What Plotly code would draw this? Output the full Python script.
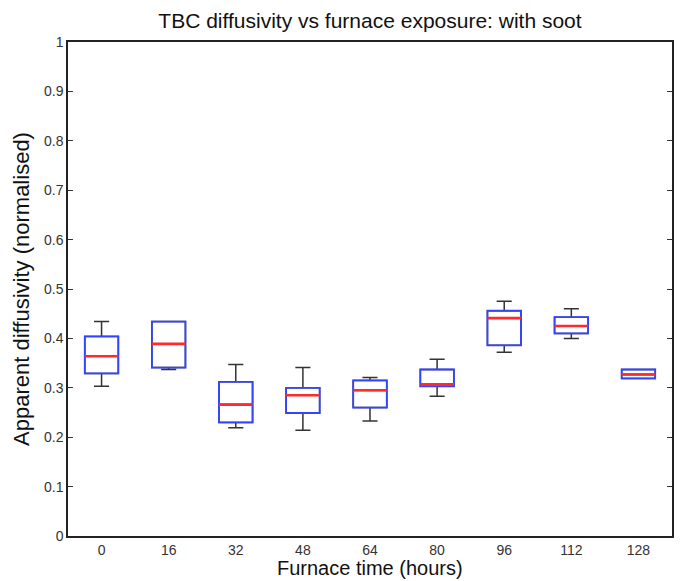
import plotly.graph_objects as go

categories = ["0", "16", "32", "48", "64", "80", "96", "112", "128"]
lower_whisker = [0.303, 0.337, 0.219, 0.214, 0.233, 0.283, 0.372, 0.400, 0.319]
q1_values     = [0.329, 0.341, 0.230, 0.249, 0.260, 0.303, 0.386, 0.410, 0.319]
median_values = [0.364, 0.389, 0.266, 0.285, 0.295, 0.307, 0.441, 0.425, 0.327]
q3_values     = [0.404, 0.434, 0.312, 0.300, 0.315, 0.337, 0.456, 0.443, 0.337]
upper_whisker = [0.434, 0.434, 0.347, 0.341, 0.321, 0.358, 0.475, 0.460, 0.337]
y_ticks = [0, 0.1, 0.2, 0.3, 0.4, 0.5, 0.6, 0.7, 0.8, 0.9, 1]
y_tick_labels = ["0", "0.1", "0.2", "0.3", "0.4", "0.5", "0.6", "0.7", "0.8", "0.9", "1"]

fig = go.Figure()

# whiskers (black)
fig.add_trace(go.Box(
    x=categories, q1=q1_values, median=median_values, q3=q3_values,
    lowerfence=lower_whisker, upperfence=upper_whisker,
    width=0.5, whiskerwidth=0.45,
    line=dict(color="#333333", width=1.5), fillcolor="rgba(0,0,0,0)",
    boxpoints=False, hoverinfo="skip", showlegend=False,
))
# box (blue)
fig.add_trace(go.Box(
    x=categories, q1=q1_values, median=median_values, q3=q3_values,
    lowerfence=q1_values, upperfence=q3_values,
    width=0.5, whiskerwidth=0,
    line=dict(color="#3344ff", width=1.8), fillcolor="rgba(0,0,0,0)",
    boxpoints=False, showlegend=False,
))
# median (red), drawn over the blue median
fig.add_trace(go.Box(
    x=categories, q1=median_values, median=median_values, q3=median_values,
    lowerfence=median_values, upperfence=median_values,
    width=0.5, whiskerwidth=0,
    line=dict(color="#ff2a2a", width=2.6), fillcolor="rgba(0,0,0,0)",
    boxpoints=False, hoverinfo="skip", showlegend=False,
))

# the page adds an 8px body margin, so margins are shifted by 8px
fig.update_layout(
    width=683, height=581,
    margin=dict(l=60, r=19, t=34, b=53),
    paper_bgcolor="white", plot_bgcolor="white",
    boxmode="overlay",
    font=dict(family="Liberation Sans, Arial, sans-serif", color="#222222"),
    title=dict(text="TBC diffusivity vs furnace exposure: with soot",
               x=0.5, xanchor="center", xref="paper", y=1 - 13 / 581, yanchor="middle",
               font=dict(size=21, color="#111111")),
    xaxis=dict(
        type="category", categoryorder="array", categoryarray=categories,
        range=[-0.5, 8.5],
        showline=True, linecolor="#222222", linewidth=1.5, mirror=True,
        ticks="", showgrid=False, zeroline=False,
        tickfont=dict(size=14, color="#333333"),
    ),
    yaxis=dict(
        range=[0, 1], tickvals=y_ticks, ticktext=y_tick_labels,
        showline=True, linecolor="#222222", linewidth=1.5, mirror="ticks",
        ticks="inside", ticklen=5, tickcolor="#333333",
        showgrid=False, zeroline=False,
        tickfont=dict(size=14, color="#333333"),
        title=dict(text="Apparent diffusivity (normalised)", font=dict(size=22, color="#111111"), standoff=8),
    ),
    annotations=[dict(
        text="Furnace time (hours)", xref="paper", yref="paper",
        x=0.5, y=-32 / 494, xanchor="center", yanchor="middle",
        showarrow=False, font=dict(size=20, color="#111111"),
    )],
)

fig.write_html("out.html")
